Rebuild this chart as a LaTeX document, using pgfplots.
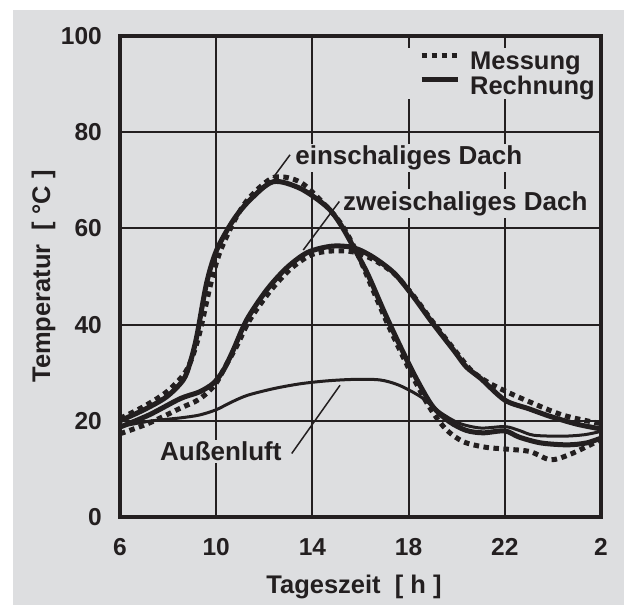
\documentclass[border=0pt]{standalone}
\usepackage{pgfplots}
\pgfplotsset{compat=1.18}
\usepackage{fontspec}
\setmainfont{Liberation Sans}
\definecolor{bg}{RGB}{221,222,224}
\definecolor{ink}{RGB}{35,31,32}
\pgfplotsset{
  mess/.style={ink, line width=5pt, dash pattern=on 5.5pt off 4.5pt, line cap=butt},
  rech/.style={ink, line width=5pt},
  luft/.style={ink, line width=3pt},
}
\begin{document}
\begin{tikzpicture}[x=1pt,y=1pt]
\fill[white] (-120,-88) rectangle (504,517);
\fill[bg] (-107,-88) rectangle (504,507);
\begin{axis}[
  at={(0,0)}, anchor=south west,
  scale only axis, width=481pt, height=481pt,
  xmin=6, xmax=26, ymin=0, ymax=100,
  xtick={6,10,14,18,22,26}, xticklabels={6,10,14,18,22,2},
  ytick={0,20,40,60,80,100},
  grid=major, major grid style={line width=2pt, ink},
  axis line style={line width=4.5pt, ink},
  major tick length=0pt,
  axis background/.style={fill=bg},
  /pgf/number format/assume math mode=true,
  tick label style={font=\fontsize{24.5}{24.5}\selectfont\bfseries, text=ink, inner sep=0pt},
  yticklabel style={xshift=-18pt},
  xticklabel style={yshift=-21pt},
  xlabel={Tageszeit~~[~h~]},
  ylabel={Temperatur~~[~°C~]},
  label style={font=\fontsize{25.5}{25.5}\selectfont\bfseries, text=ink, inner sep=0pt},
  xlabel style={at={(axis description cs:0.4865,-0.158)}, anchor=base},
  ylabel style={at={(axis description cs:-0.1455,0.5)}, anchor=base},
  legend style={at={(axis description cs:0.9938,0.975)}, anchor=north east,
    draw=none, fill=bg, font=\fontsize{25.5}{25.5}\selectfont\bfseries, text=ink,
    inner xsep=3pt, inner ysep=3pt, row sep=5pt, nodes={inner sep=0pt},
    /tikz/every odd column/.append style={column sep=10pt}},
  legend cell align=left,
  legend image code/.code={\draw[#1] (0pt,6pt) -- (36pt,6pt); \path[draw=none,fill=none] (-22pt,0pt) rectangle (36pt,10pt);},
]
% annotation labels (filled to break the grid)
\node[anchor=base west, fill=bg, inner sep=2pt, font=\fontsize{26}{26}\selectfont\bfseries, text=ink] at (axis cs:13.2,73.2) {einschaliges Dach};
\node[anchor=base west, fill=bg, inner sep=2pt, font=\fontsize{26}{26}\selectfont\bfseries, text=ink] at (axis cs:15.19,63.8) {zweischaliges Dach};
\node[anchor=base west, fill=bg, inner sep=2pt, font=\fontsize{26}{26}\selectfont\bfseries, text=ink] at (axis cs:7.58,11.7) {Außenluft};

% Außenluft
\addplot[luft, smooth, no markers, forget plot] table {
x y
6 18.8
7.2 19.9
8.5 20.6
9.3 21.2
10.0 22.3
10.6 23.8
11.3 25.3
12.4 26.7
13.5 27.7
14.6 28.3
15.7 28.6
16.8 28.5
17.6 27.4
18.5 25
19.3 21.8
20.1 19.5
21.0 18.5
22.0 18.8
22.6 18.0
23.2 17.0
24.4 16.8
25.3 17.1
26 17.8
};

% zweischaliges Dach - Messung
\addplot[mess, smooth, no markers, forget plot] table {
x y
6 17.3
7.2 19.5
8.5 22.6
9.3 24.5
9.95 27.5
10.4 31.5
10.85 35.5
11.4 41
12.25 47
13.1 51.6
13.95 54.5
14.8 55.3
15.7 55.1
16.5 53.6
17.4 50.6
18.2 46
19.0 40.6
19.9 34.8
20.6 30.5
21.3 28
22.1 26
23.0 24
24.4 21.2
25.8 19.6
26 19.5
};

% zweischaliges Dach - Rechnung
\addplot[rech, smooth, no markers, forget plot] table {
x y
6 18.7
7.2 21.2
8.5 24.6
9.3 26
9.88 27.8
10.3 30.5
10.71 34.7
11.27 41
12.1 47.2
12.93 51.8
13.8 55
14.8 56.3
15.7 56.0
16.5 54.1
17.4 50.7
18.2 45.8
19.0 40.3
19.9 34.5
20.4 31.2
21.0 28.8
22.0 24.3
23.0 22.5
23.9 20.9
25.0 19.3
26 18.3
};

% einschaliges Dach - Messung
\addplot[mess, smooth, no markers, forget plot] table {
x y
6 20.5
7 23
7.94 26
8.63 29.5
8.95 32.5
9.3 38
9.75 48
10.15 55
10.8 62
11.4 66.5
12.4 70.6
13.5 69.6
14.6 64.5
15.25 60.5
15.85 55
16.45 48
17.05 41
17.75 33.5
18.45 26.5
19.0 21.8
19.6 18
20.3 15.6
21.2 14.5
22.1 14.1
23.05 13.6
23.9 11.9
24.7 13
25.8 15.6
26 16
};

% einschaliges Dach - Rechnung
\addplot[rech, smooth, no markers, forget plot] table {
x y
6 20
7 22.3
7.94 25
8.63 28.5
8.91 32
9.19 37.5
9.6 48.6
10.02 55.5
10.71 61.7
11.4 65.9
12.37 69.7
13.5 68.3
14.6 64.5
15.15 61
15.7 56.2
16.3 50.5
17.0 42.5
17.7 35
18.35 28.5
19.0 23
19.7 19.8
20.4 18
21.1 17.5
22.0 17.9
22.6 16.6
23.5 15.4
24.6 15.0
25.4 15.4
26 16.4
};

% leader lines
\draw[ink, line width=1.5pt] (axis cs:13.07,75.3) -- (axis cs:12.36,70.5);
\draw[ink, line width=1.5pt] (axis cs:15.12,65.6) -- (axis cs:13.62,55.5);
\draw[ink, line width=1.5pt] (axis cs:13.14,13.2) -- (axis cs:15.15,27.4);

\addlegendimage{mess}
\addlegendentry{Messung}
\addlegendimage{rech}
\addlegendentry{Rechnung}
\end{axis}
\end{tikzpicture}
\end{document}
